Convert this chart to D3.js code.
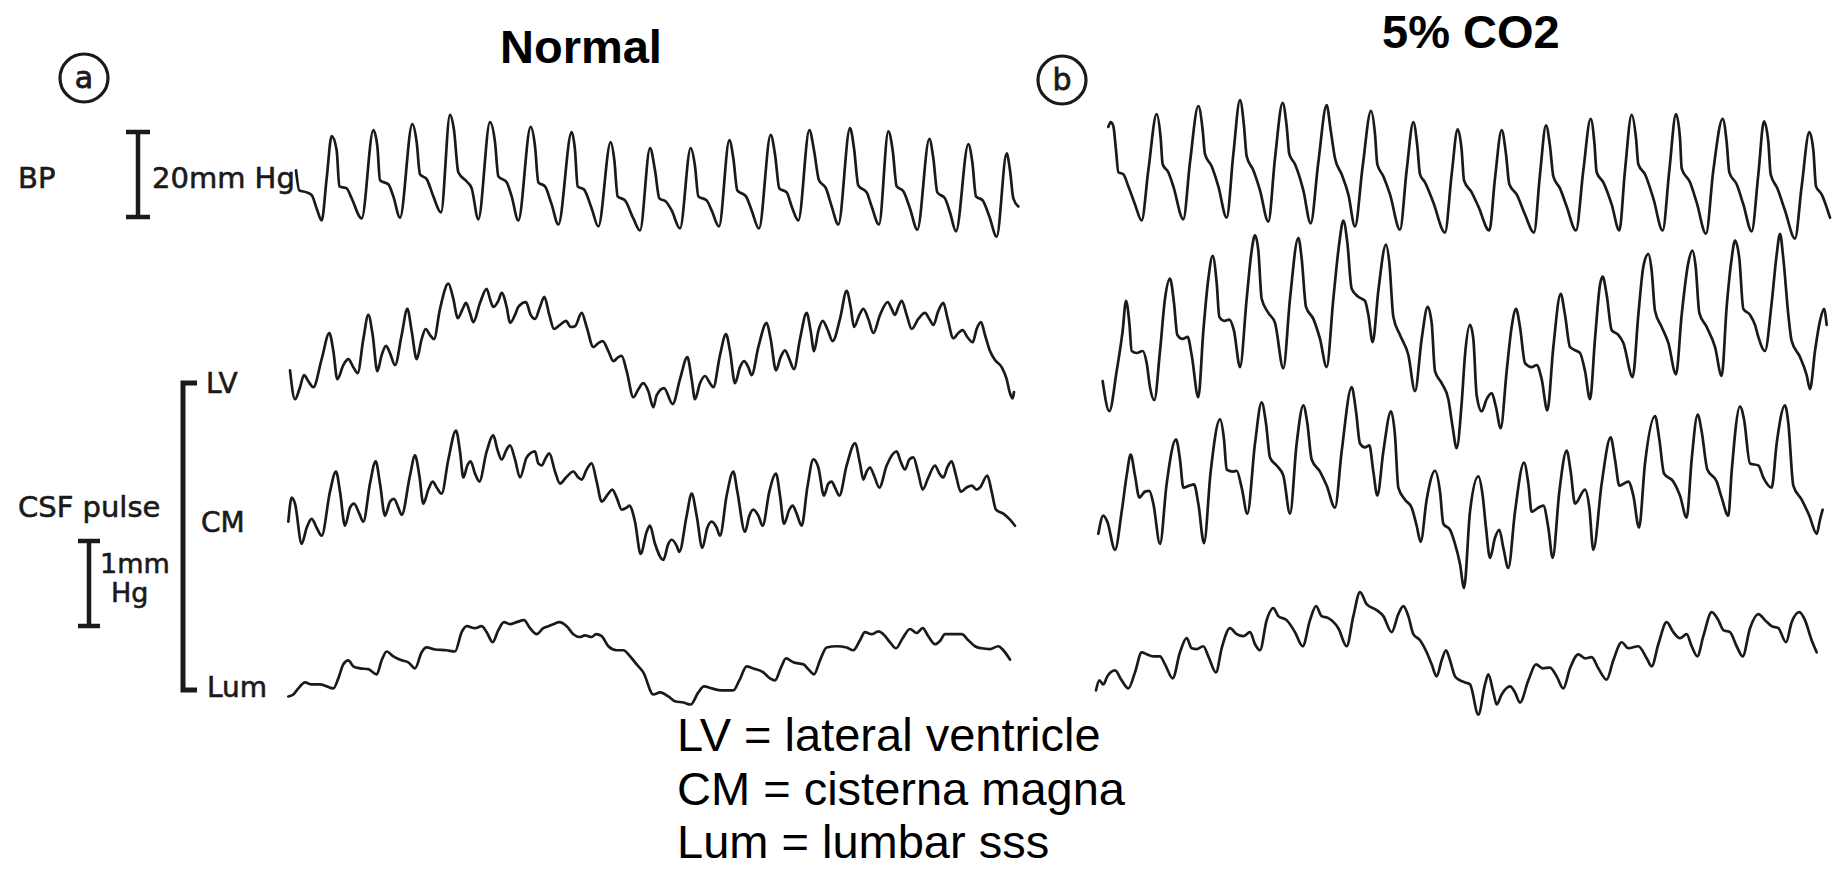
<!DOCTYPE html>
<html>
<head>
<meta charset="utf-8">
<script src="https://cdn.jsdelivr.net/npm/d3@7"></script>
<style>
  body { margin: 0; background: #fff; }
  svg  { display: block; }
</style>
</head>
<body>
<svg id="chart" width="1837" height="869"></svg>
<script>
/* ═══════════════════════════════════════════════════════════════
   DATA  — pen deflection
   t = sample index along the sweep, v = deflection units
═══════════════════════════════════════════════════════════════ */

const bpNormal = [[48,20.0],[58,15.0],[80,14.5],[95,13.8],[110,10.5],[125,7.5],[140,18.0],[155,28.5],[170,25.0],[178,16.0],[200,15.5],[215,13.0],[245,8.0],
  [280,30.0],[292,26.0],[300,17.5],[325,16.5],[340,13.5],[360,8.2],[397,31.5],[410,27.0],[420,19.0],[440,17.8],[460,13.5],[483,9.5],
  [510,33.8],[522,30.0],[535,19.5],[560,17.2],[575,15.5],[595,7.8],[630,32.0],[645,27.0],[655,18.5],[680,17.0],[695,13.5],[715,7.5],
  [752,30.8],[765,26.0],[775,17.0],[795,16.0],[815,11.5],[835,6.5],[875,29.5],[885,25.0],[893,16.0],[912,15.2],[935,10.5],[955,6.0],
  [992,27.0],[1003,22.5],[1013,13.5],[1035,12.5],[1060,8.0],[1080,5.0],[1110,25.5],[1125,20.0],[1138,13.0],[1158,12.2],[1175,10.0],[1200,5.5],
  [1232,25.5],[1245,21.0],[1255,13.5],[1280,12.5],[1295,10.0],[1317,6.0],[1348,27.5],[1360,23.0],[1372,15.0],[1398,13.5],[1415,10.0],[1437,5.5],
  [1472,28.8],[1485,24.0],[1498,15.5],[1520,14.5],[1535,11.0],[1555,7.5],[1588,30.0],[1602,25.0],[1617,17.5],[1638,15.5],[1655,11.0],[1675,6.5],
  [1710,30.5],[1722,25.5],[1735,16.2],[1760,14.5],[1775,11.0],[1797,6.5],[1825,29.7],[1838,25.0],[1850,16.0],[1870,14.8],[1890,10.5],[1912,5.2],
  [1948,27.8],[1960,23.0],[1972,14.5],[1995,13.0],[2010,9.5],[2028,4.8],[2065,26.5],[2077,22.0],[2088,13.5],[2108,12.5],[2128,8.5],[2150,3.5],
  [2180,24.2],[2190,20.0],[2200,13.0],[2215,11.0]];

const lvNormal = [[30,15.2],[45,8.0],[60,11.0],[72,14.0],[85,12.5],[100,11.0],[125,18.0],[148,24.5],[160,20.0],[172,13.0],[190,16.5],[205,18.0],
  [220,16.0],[233,14.5],[250,23.0],[265,29.0],[278,24.0],[292,15.0],[305,19.0],[318,21.3],[330,19.5],[345,16.5],[365,24.0],[382,30.5],
  [395,25.0],[410,18.0],[425,23.0],[437,25.5],[450,24.0],[462,23.0],[480,30.5],[505,36.8],[520,33.0],[533,28.2],[548,30.5],[558,32.0],
  [570,29.5],[580,27.2],[600,32.0],[620,35.5],[630,33.0],[640,31.0],[655,32.5],[665,34.5],[680,31.0],[690,27.0],[705,29.0],[715,31.0],
  [738,32.2],[752,29.0],[765,28.0],[780,31.0],[793,33.5],[808,29.0],[822,25.5],[840,26.5],[858,27.5],[872,26.0],[885,26.2],[905,29.5],
  [920,26.0],[940,21.0],[955,22.0],[968,22.5],[985,20.0],[1000,17.5],[1015,18.5],[1025,18.8],[1040,15.0],[1060,8.5],[1075,10.5],[1090,12.0],
  [1105,10.0],[1120,6.0],[1130,9.0],[1152,10.8],[1178,6.8],[1200,13.0],[1222,18.5],[1235,13.0],[1245,8.0],[1260,12.0],[1275,13.8],[1290,12.0],
  [1300,11.0],[1320,19.0],[1338,24.2],[1350,20.0],[1365,12.0],[1380,16.0],[1392,17.5],[1405,16.0],[1415,14.0],[1435,21.0],[1460,27.0],
  [1472,23.0],[1488,15.2],[1502,18.5],[1515,20.2],[1528,18.0],[1542,15.5],[1560,23.0],[1580,29.5],[1592,25.0],[1602,20.0],[1615,25.0],
  [1628,27.5],[1642,25.5],[1658,22.5],[1680,28.0],[1700,35.0],[1712,31.0],[1722,26.0],[1738,29.0],[1750,30.5],[1765,28.0],[1780,24.5],
  [1800,29.0],[1823,32.2],[1835,30.5],[1845,29.0],[1855,31.0],[1865,32.5],[1880,29.0],[1895,25.5],[1915,28.0],[1935,29.5],[1948,28.0],
  [1960,26.5],[1975,30.0],[1990,32.0],[2003,28.0],[2020,23.2],[2035,24.5],[2048,25.2],[2062,23.5],[2078,22.2],[2090,25.5],[2103,27.2],
  [2115,24.0],[2130,20.0],[2145,17.8],[2165,16.0],[2180,13.0],[2190,9.5],[2198,8.2],[2202,9.8]];

const cmNormal = [[25,12.5],[35,18.5],[45,17.0],[65,7.0],[80,11.0],[95,13.2],[110,11.0],[125,9.0],[150,20.0],[168,25.0],[180,20.0],[195,11.5],
  [210,16.0],[222,17.0],[238,14.5],[250,12.5],[270,22.0],[287,27.5],[300,22.0],[315,14.0],[330,17.5],[342,18.2],[355,16.0],[365,14.2],
  [390,24.0],[405,29.0],[418,24.0],[430,17.0],[445,20.5],[458,22.5],[470,21.0],[485,19.5],[505,28.0],[528,35.2],[540,30.0],[550,23.5],
  [562,26.5],[572,27.5],[585,24.5],[598,22.5],[620,30.0],[640,34.0],[652,30.5],[665,28.0],[680,30.5],[690,31.5],[705,28.0],[720,23.5],
  [740,28.5],[765,30.0],[775,27.0],[785,26.5],[798,28.5],[808,29.5],[825,25.0],[840,22.0],[858,23.5],[880,25.0],[895,23.5],[905,23.0],
  [920,25.5],[935,27.0],[950,22.5],[965,17.5],[985,19.5],[997,20.5],[1010,18.5],[1025,15.5],[1040,16.0],[1048,16.5],[1065,12.5],[1082,4.5],
  [1100,10.0],[1110,11.5],[1125,7.0],[1150,3.0],[1165,7.0],[1175,8.0],[1190,6.5],[1198,5.0],[1220,14.0],[1235,19.5],[1250,14.0],[1267,6.0],
  [1282,11.0],[1295,12.5],[1310,11.0],[1320,9.0],[1340,19.0],[1360,25.0],[1372,20.0],[1395,10.0],[1408,14.0],[1420,15.5],[1435,14.0],
  [1448,11.5],[1468,20.0],[1488,24.5],[1500,19.0],[1512,12.0],[1528,15.5],[1538,16.5],[1550,14.5],[1565,11.5],[1582,21.0],[1600,28.0],
  [1615,26.0],[1632,19.0],[1645,22.0],[1655,22.5],[1665,21.0],[1678,19.0],[1700,26.5],[1725,32.0],[1740,27.0],[1750,23.0],[1760,25.0],
  [1770,26.0],[1782,24.0],[1798,21.0],[1820,26.5],[1850,30.0],[1862,27.5],[1875,25.5],[1888,28.0],[1900,28.5],[1915,24.5],[1928,20.5],
  [1945,23.5],[1965,26.5],[1978,24.5],[1990,23.5],[2002,26.0],[2015,27.5],[2028,24.0],[2042,20.0],[2060,21.0],[2075,21.5],[2090,20.5],
  [2100,21.0],[2122,24.0],[2135,20.0],[2148,15.5],[2170,14.5],[2190,13.0],[2205,11.5]];

const lumNormal = [[25,9.0],[40,9.5],[55,11.0],[75,12.5],[95,12.0],[120,12.0],[140,11.5],[160,11.0],[175,13.5],[190,17.0],[205,18.0],[220,16.5],
  [240,16.0],[265,15.8],[290,14.5],[305,18.0],[320,20.2],[340,19.0],[365,18.0],[385,17.5],[405,16.0],[425,20.0],[440,21.2],[465,20.7],
  [500,20.5],[525,20.2],[545,25.0],[560,26.5],[585,26.0],[605,26.5],[620,25.0],[638,22.5],[655,25.5],[672,27.5],[690,27.0],[710,27.5],
  [732,28.0],[750,26.0],[770,24.5],[790,26.0],[805,26.5],[820,27.0],[838,27.5],[860,26.5],[880,24.5],[900,23.8],[915,24.2],[935,23.8],
  [948,24.5],[965,24.0],[985,21.5],[1010,20.5],[1030,20.5],[1050,19.0],[1070,17.0],[1090,15.0],[1120,9.5],[1140,10.0],[1165,9.0],
  [1185,7.8],[1210,7.5],[1232,7.0],[1255,10.0],[1272,11.5],[1295,11.0],[1325,10.5],[1360,10.5],[1378,13.0],[1400,16.5],[1418,16.0],
  [1450,15.0],[1470,13.5],[1485,13.0],[1502,16.0],[1518,18.5],[1540,17.5],[1570,17.0],[1588,15.5],[1602,14.5],[1620,18.0],[1640,21.2],
  [1670,21.5],[1700,21.2],[1720,20.5],[1740,23.0],[1755,25.0],[1775,24.5],[1795,25.2],[1810,24.5],[1830,22.5],[1848,21.0],[1868,23.5],
  [1890,25.8],[1910,24.8],[1928,26.0],[1945,24.0],[1965,22.0],[1980,22.8],[1995,24.5],[2015,24.5],[2045,24.5],[2065,23.0],[2085,21.5],
  [2105,21.0],[2130,20.8],[2155,21.5],[2170,20.5],[2190,18.2]];

const bpCO2 = [[55,30.8],[62,32.0],[70,31.0],[78,25.0],[85,19.5],[100,19.0],[115,16.0],[135,11.5],[155,7.5],[175,20.0],[200,34.0],[212,28.0],
  [218,21.5],[235,19.5],[250,16.0],[280,7.8],[300,22.0],[325,36.0],[338,30.0],[345,24.0],[365,21.0],[385,16.0],[410,8.2],[430,24.0],
  [450,37.5],[462,31.0],[470,23.5],[490,20.0],[510,15.0],[535,7.2],[555,23.0],[578,36.8],[590,31.0],[598,24.0],[615,21.5],[640,15.0],
  [662,6.8],[685,22.0],[710,36.2],[722,30.0],[735,23.0],[755,19.0],[775,14.0],[795,6.0],[818,21.0],[843,34.8],[855,29.0],[862,21.5],
  [880,18.5],[900,14.0],[930,5.2],[950,20.0],[970,32.0],[982,26.0],[990,19.0],[1005,17.0],[1030,12.0],[1065,4.5],[1085,19.0],[1103,30.2],
  [1115,25.0],[1122,17.5],[1145,14.5],[1165,11.0],[1198,5.0],[1215,18.0],[1235,30.0],[1248,24.0],[1258,16.5],[1280,14.0],[1305,9.0],
  [1332,4.5],[1350,19.0],[1368,31.2],[1380,26.0],[1390,18.5],[1410,15.5],[1430,11.0],[1458,5.0],[1480,20.0],[1502,32.8],[1513,27.0],
  [1520,19.5],[1540,17.0],[1565,11.5],[1588,5.0],[1605,20.0],[1625,33.8],[1638,28.0],[1645,21.5],[1665,19.0],[1690,13.0],[1718,5.0],
  [1738,20.0],[1758,34.0],[1770,28.0],[1775,20.5],[1800,17.0],[1820,12.0],[1848,4.2],[1870,20.0],[1898,32.8],[1910,27.0],[1918,19.5],
  [1940,16.5],[1960,11.5],[1985,4.8],[2005,19.0],[2022,32.2],[2035,27.0],[2042,19.0],[2062,15.5],[2085,10.0],[2115,3.0],[2135,16.0],
  [2158,29.5],[2170,25.0],[2178,16.0],[2195,14.0],[2220,8.2]];

const lvCO2 = [[38,17.5],[58,10.0],[80,20.0],[98,30.0],[108,37.5],[118,32.0],[125,25.0],[140,24.5],[158,25.0],[170,22.0],[180,16.0],[193,12.8],
  [210,25.0],[225,38.0],[240,43.0],[252,37.0],[262,29.0],[278,28.0],[293,28.5],[305,24.0],[325,13.5],[340,30.0],[355,43.0],[368,48.7],
  [380,42.0],[388,33.5],[403,32.5],[418,32.8],[432,30.0],[450,21.0],[470,38.0],[485,50.0],[495,53.8],[505,50.0],[515,38.0],[535,34.5],
  [555,32.0],[580,20.7],[600,38.0],[625,53.2],[635,48.0],[648,36.0],[670,33.0],[690,28.0],[710,21.0],[730,38.0],[748,52.0],[760,57.5],
  [772,52.0],[785,40.5],[805,38.5],[825,37.5],[835,34.0],[848,27.2],[865,40.0],[888,51.5],[898,47.0],[910,33.5],[930,29.0],[955,24.0],
  [975,15.0],[995,28.0],[1013,36.0],[1025,32.0],[1035,20.0],[1055,17.0],[1075,13.0],[1088,6.0],[1100,0.8],[1115,12.0],[1125,24.0],
  [1140,31.5],[1150,28.0],[1160,14.0],[1175,10.0],[1190,13.0],[1205,14.5],[1218,11.0],[1232,5.8],[1250,20.0],[1265,31.0],[1278,35.5],
  [1290,31.0],[1305,22.0],[1325,21.0],[1340,21.5],[1355,18.0],[1372,10.2],[1390,26.0],[1412,39.2],[1425,34.0],[1440,26.0],[1460,25.0],
  [1470,24.5],[1485,20.0],[1500,13.0],[1515,28.0],[1530,41.5],[1538,43.5],[1550,39.0],[1565,30.2],[1585,29.0],[1600,27.0],[1628,18.5],
  [1645,34.0],[1660,46.0],[1675,49.2],[1685,45.0],[1695,35.0],[1715,31.0],[1735,27.0],[1758,19.2],[1775,34.0],[1795,47.0],[1807,50.0],
  [1817,46.0],[1828,34.5],[1850,31.0],[1875,26.0],[1895,18.8],[1910,36.0],[1925,48.0],[1935,52.5],[1948,48.0],[1960,35.5],[1980,34.0],
  [1995,31.5],[2005,28.5],[2025,25.0],[2045,37.0],[2060,49.0],[2070,54.2],[2080,48.0],[2095,34.0],[2105,27.5],[2130,23.5],[2150,19.0],
  [2160,15.5],[2175,25.0],[2190,32.5],[2202,35.5],[2210,31.5]];

const cmCO2 = [[25,19.5],[40,24.0],[52,22.5],[75,15.5],[95,25.0],[110,34.0],[122,39.2],[135,34.0],[148,28.5],[165,30.0],[178,30.2],[190,27.0],
  [210,17.0],[230,32.0],[258,43.0],[270,38.0],[280,31.0],[298,31.5],[312,31.8],[325,27.0],[342,17.2],[362,35.0],[390,48.0],[402,43.0],
  [410,35.5],[430,35.0],[440,35.2],[455,31.0],[472,24.5],[495,42.0],[515,52.2],[528,47.0],[540,38.5],[560,36.5],[580,34.0],[600,24.5],
  [620,42.0],[640,51.5],[652,47.0],[665,38.0],[690,35.0],[710,31.5],[735,26.0],[755,40.0],[785,56.0],[798,50.0],[810,42.0],[825,41.0],
  [838,41.5],[850,35.0],[862,29.0],[880,40.0],[903,50.0],[915,44.0],[925,31.0],[945,28.0],[965,26.0],[980,21.5],[992,17.5],[1010,28.0],
  [1035,35.2],[1050,30.0],[1060,22.0],[1080,20.5],[1095,17.0],[1110,12.0],[1122,6.0],[1140,25.0],[1165,33.8],[1178,29.0],[1188,21.0],
  [1200,13.5],[1215,18.5],[1228,20.5],[1240,16.0],[1255,11.0],[1275,25.0],[1302,37.2],[1315,32.0],[1325,25.0],[1345,26.0],[1360,26.5],
  [1375,21.0],[1388,13.5],[1408,30.0],[1430,40.2],[1442,35.0],[1455,27.0],[1485,30.5],[1498,26.0],[1510,15.5],[1535,32.0],[1562,43.5],
  [1575,38.0],[1588,31.5],[1615,32.5],[1630,29.0],[1647,21.0],[1665,37.0],[1695,48.8],[1708,43.0],[1722,34.5],[1750,32.5],[1770,29.0],
  [1790,23.5],[1805,38.0],[1823,49.2],[1835,45.0],[1852,35.5],[1880,32.5],[1895,28.5],[1915,24.0],[1925,35.0],[1950,51.2],[1962,48.0],
  [1980,37.0],[2005,36.5],[2020,33.5],[2045,31.0],[2060,42.0],[2085,51.5],[2095,47.0],[2110,31.5],[2135,28.0],[2158,24.0],[2180,19.5],
  [2190,23.0],[2198,25.5]];

const lumCO2 = [[18,10.5],[28,13.0],[40,12.0],[52,14.0],[75,15.5],[95,13.0],[115,11.0],[135,15.0],[155,20.0],[170,19.5],[190,19.0],[210,19.0],
  [225,17.0],[248,13.5],[270,20.0],[290,23.5],[305,21.0],[320,20.8],[340,21.5],[355,19.0],[378,15.0],[395,21.0],[420,26.0],[440,24.5],
  [460,24.0],[480,25.0],[495,22.0],[510,20.5],[530,28.0],[550,31.0],[565,29.0],[590,28.0],[615,25.0],[638,21.5],[660,28.0],[678,31.5],
  [695,29.0],[715,28.5],[745,26.0],[770,21.5],[790,29.0],[810,35.0],[830,32.0],[860,30.5],[880,29.0],[905,25.0],[925,29.5],[940,31.5],
  [955,29.0],[970,24.5],[990,23.0],[1010,20.0],[1025,17.0],[1040,14.0],[1055,18.0],[1068,20.5],[1080,18.0],[1095,14.0],[1110,13.0],
  [1125,12.5],[1140,12.0],[1165,4.5],[1185,12.0],[1195,14.5],[1210,10.0],[1220,7.0],[1235,9.5],[1260,11.5],[1275,10.0],[1290,7.5],
  [1315,13.0],[1338,17.0],[1358,16.0],[1380,16.2],[1400,14.0],[1420,11.0],[1440,16.0],[1465,19.5],[1485,18.5],[1505,18.8],[1525,16.0],
  [1550,13.2],[1570,18.0],[1595,22.5],[1615,21.0],[1645,21.5],[1670,18.5],[1685,16.5],[1705,22.0],[1730,27.5],[1750,25.0],[1770,23.5],
  [1790,24.5],[1805,21.5],[1822,19.0],[1840,24.0],[1865,30.0],[1885,28.0],[1900,25.5],[1920,25.0],[1940,21.5],[1958,19.0],[1980,26.0],
  [2005,29.5],[2025,28.0],[2045,26.5],[2065,26.0],[2088,22.5],[2105,27.5],[2128,30.0],[2145,28.0],[2165,23.0],[2180,20.0]];

const panelTitles  = ["Normal", "5% CO2"];
const panelLetters = ["a", "b"];
const channelLabels = ["LV", "CM", "Lum"];
const legendLines  = ["LV = lateral ventricle", "CM = cisterna magna", "Lum = lumbar sss"];

/* ═══════════════════════════════════════════════════════════════
   LAYOUT
═══════════════════════════════════════════════════════════════ */

const W = 1837, H = 869;
const SWEEP = 2220;          // samples across one sweep
const UNIT  = 4.016;         // px per deflection unit
const INK   = "#1a1a1a";

const panels = [
  { x0: 280,  x1: 1020, traces: [
    { data: bpNormal,  base: 250.6 },
    { data: lvNormal,  base: 431.4 },
    { data: cmNormal,  base: 571.9 },
    { data: lumNormal, base: 732.6 } ] },
  { x0: 1090, x1: 1830, traces: [
    { data: bpCO2,  base: 250.6 },
    { data: lvCO2,  base: 451.4 },
    { data: cmCO2,  base: 612.1 },
    { data: lumCO2, base: 732.6 } ] }
];

const svg = d3.select("#chart");
svg.append("rect").attr("width", W).attr("height", H).attr("fill", "#fff");

/* ═══════════════════════════════════════════════════════════════
   TRACES
═══════════════════════════════════════════════════════════════ */

panels.forEach(p => {
  const x = d3.scaleLinear().domain([0, SWEEP]).range([p.x0, p.x1]);
  p.traces.forEach(tr => {
    const y = d3.scaleLinear().domain([0, 10]).range([tr.base, tr.base - 10 * UNIT]);
    const line = d3.line()
      .x(d => x(d[0]))
      .y(d => y(d[1]))
      .curve(d3.curveMonotoneX);
    svg.append("path")
      .datum(tr.data)
      .attr("d", line)
      .attr("fill", "none")
      .attr("stroke", INK)
      .attr("stroke-width", 2.7)
      .attr("stroke-linejoin", "round")
      .attr("stroke-linecap", "round");
  });
});

/* ═══════════════════════════════════════════════════════════════
   TITLES + PANEL LETTERS
═══════════════════════════════════════════════════════════════ */

const titleFont = "'Liberation Sans', Arial, sans-serif";
const labelFont = "'DejaVu Sans', sans-serif";

[[500, 63], [1382, 48]].forEach((pos, i) => {
  svg.append("text")
    .attr("x", pos[0]).attr("y", pos[1])
    .attr("font-family", titleFont)
    .attr("font-weight", "bold")
    .attr("font-size", 47)
    .attr("fill", "#000")
    .text(panelTitles[i]);
});

[[84, 78], [1062, 80]].forEach((c, i) => {
  svg.append("circle")
    .attr("cx", c[0]).attr("cy", c[1]).attr("r", 24)
    .attr("fill", "none").attr("stroke", INK).attr("stroke-width", 3.2);
  svg.append("text")
    .attr("x", c[0]).attr("y", c[1] + 10)
    .attr("text-anchor", "middle")
    .attr("font-family", labelFont)
    .attr("font-size", 30)
    .attr("fill", INK)
    .attr("stroke", INK).attr("stroke-width", 0.8)
    .text(panelLetters[i]);
});

/* ═══════════════════════════════════════════════════════════════
   SCALE BARS + CHANNEL LABELS
═══════════════════════════════════════════════════════════════ */

function calBar(xc, y1, y2, half, sw) {
  const g = svg.append("g").attr("stroke", INK).attr("stroke-width", sw).attr("fill", "none");
  g.append("line").attr("x1", xc).attr("x2", xc).attr("y1", y1).attr("y2", y2);
  g.append("line").attr("x1", xc - half).attr("x2", xc + half).attr("y1", y1).attr("y2", y1);
  g.append("line").attr("x1", xc - half).attr("x2", xc + half).attr("y1", y2).attr("y2", y2);
}

calBar(138, 132, 217, 12, 4.5);   // 20 mm Hg
calBar(89, 541, 626, 11, 4.5);    // 1 mm Hg

// CSF bracket
svg.append("path")
  .attr("d", "M197,383 H183 V690 H197")
  .attr("fill", "none").attr("stroke", INK).attr("stroke-width", 5);

function label(txt, x, y, size) {
  svg.append("text")
    .attr("x", x).attr("y", y)
    .attr("font-family", labelFont)
    .attr("font-size", size)
    .attr("fill", INK)
    .attr("stroke", INK).attr("stroke-width", 0.6)
    .text(txt);
}

label("BP", 18, 188, 29);
label("20mm Hg", 152, 188, 29);
label("CSF pulse", 18, 517, 29);
label("1mm", 100, 573, 27);
label("Hg", 111, 602, 27);
label(channelLabels[0], 206, 393, 28);
label(channelLabels[1], 201, 532, 28);
label(channelLabels[2], 207, 697, 28);

/* ═══════════════════════════════════════════════════════════════
   LEGEND
═══════════════════════════════════════════════════════════════ */

legendLines.forEach((t, i) => {
  svg.append("text")
    .attr("x", 677).attr("y", 751 + i * 53.5)
    .attr("font-family", titleFont)
    .attr("font-size", 47)
    .attr("fill", "#000")
    .text(t);
});
</script>
</body>
</html>
